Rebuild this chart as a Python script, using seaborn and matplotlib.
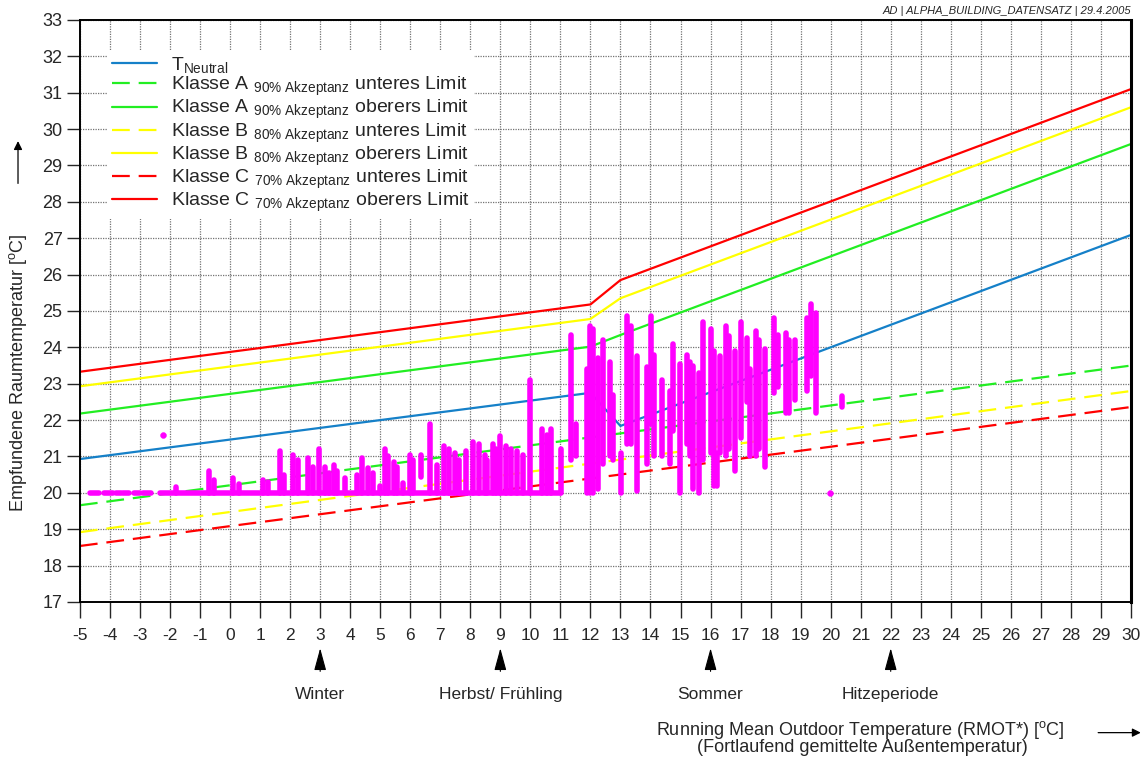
import matplotlib
matplotlib.use("Agg")
import matplotlib.pyplot as plt
import matplotlib.patches as mpatches
import matplotlib.transforms as mtransforms
import seaborn as sns

# comfort band lines (x = running mean outdoor temp, y = room temp)
x_knots = [-5, 12, 13, 30]
t_neutral = [20.93, 22.75, 21.84, 27.09]
a_upper = [22.18, 24.02, 24.34, 29.59]
b_upper = [22.93, 24.78, 25.35, 30.60]
c_upper = [23.33, 25.18, 25.85, 31.10]

x_ends = [-5, 30]
a_lower = [19.66, 23.50]
b_lower = [18.92, 22.80]
c_lower = [18.54, 22.36]

# measured data, read as vertical clusters of points: x, lowest y, highest y
col_x = [-1.8, -0.7, -0.55, 0.1, 0.3, 1.1, 1.25, 1.65, 1.8, 2.1, 2.25, 2.6, 2.75,
         2.95, 3.15, 3.3,
         3.45, 3.55, 3.83, 4.22, 4.4, 4.58, 4.75, 5.0, 5.15, 5.25, 5.45, 5.55, 5.77,
         5.98, 6.1, 6.35, 6.65, 6.88, 7.12, 7.28, 7.5, 7.62, 7.85, 8.1, 8.28, 8.48,
         8.55, 8.75, 8.85, 9.0, 9.2, 9.35, 9.57, 9.77, 10.0, 10.4, 10.55, 10.7,
         11.03, 11.36, 11.52, 11.88, 12.0, 12.1, 12.25, 12.43, 12.65, 12.75, 13.02,
         13.22, 13.35, 13.55, 13.88, 14.02, 14.12, 14.4, 14.65, 14.75, 14.97, 15.2,
         15.3,
         15.42, 15.6, 15.75, 16.0, 16.1, 16.2, 16.3, 16.5, 16.6, 16.8, 17.0, 17.2,
         17.33, 17.5, 17.6, 17.83, 18.1, 18.25, 18.5, 18.6, 18.8, 19.2, 19.35, 19.5,
         20.38]
col_lo = [20.0, 20.0, 20.0, 20.0, 20.0, 20.0, 20.0, 20.0, 20.0, 20.0, 20.0, 20.0, 20.0,
          20.0, 20.0, 20.0,
          20.0, 20.0, 20.0, 20.0, 20.0, 20.0, 20.0, 20.0, 20.0, 20.0, 20.0, 20.0, 20.0,
          20.0, 20.0, 20.45, 20.0, 20.0, 20.0, 20.0, 20.0, 20.0, 20.0, 20.0, 20.0, 20.0,
          20.0, 20.0, 20.0, 20.0, 20.0, 20.0, 20.0, 20.0, 20.0, 20.0, 20.0, 20.0,
          20.0, 20.9, 21.0, 20.0, 20.0, 20.0, 20.1, 20.8, 21.0, 20.9, 20.0,
          21.35, 21.35, 20.05, 20.8, 21.9, 21.0, 21.0, 20.8, 21.7, 20.0, 21.35,
          21.0,
          20.1, 20.0, 20.9, 21.1, 20.2, 20.2, 21.1, 21.0, 21.2, 20.6, 21.5, 22.5,
          21.0, 21.0, 21.2, 20.7, 22.75, 22.9, 22.2, 22.2, 22.55, 22.8, 23.2, 22.2,
          22.35]
col_hi = [20.15, 20.6, 20.35, 20.4, 20.25, 20.35, 20.3, 21.15, 20.5, 21.05, 20.9, 20.95, 20.7,
          21.2, 20.7, 20.55,
          20.77, 20.6, 20.4, 20.5, 20.95, 20.68, 20.55, 20.2, 21.2, 21.0, 20.86, 20.7, 20.26,
          21.05, 20.9, 21.05, 21.9, 20.77, 21.3, 21.2, 21.1, 20.9, 21.15, 21.4, 21.35, 21.05,
          20.9, 21.35, 21.2, 21.55, 21.28, 21.2, 21.15, 21.05, 23.1, 21.75, 21.6, 21.75,
          21.2, 24.35, 21.9, 23.4, 24.6, 24.5, 23.7, 24.2, 23.6, 22.7, 21.1,
          24.85, 24.6, 23.75, 23.45, 24.85, 23.8, 23.1, 22.8, 24.1, 23.55, 23.8,
          23.6,
          23.5, 23.3, 24.7, 24.5, 23.9, 21.1, 23.75, 24.6, 24.3, 23.9, 24.7, 24.25,
          23.4, 24.45, 24.2, 23.95, 24.8, 24.35, 24.4, 24.2, 24.2, 24.8, 25.2, 24.95,
          22.65]

# runs of readings sitting at 20 degC
base_start = [-4.65, -4.2, -3.8, -3.55, -3.2, -2.9, -2.35]
base_end = [-4.35, -3.9, -3.62, -3.35, -3.0, -2.62, 11.0]

single_x = [-2.25, 19.97]
single_y = [21.58, 20.0]

season_x = [3, 9, 16, 22]
season_names = ["Winter", "Herbst/ Frühling", "Sommer", "Hitzeperiode"]

sns.set_style("white")
plt.rcParams["font.family"] = ["Liberation Sans", "DejaVu Sans"]
plt.rcParams["mathtext.fontset"] = "custom"
plt.rcParams["mathtext.rm"] = "Liberation Sans"
plt.rcParams["mathtext.it"] = "Liberation Sans:italic"
plt.rcParams["axes.unicode_minus"] = False

fig = plt.figure(figsize=(11.47, 7.6), dpi=100)
ax = fig.add_axes([0.0697, 0.2079, 0.9163, 0.7658])

mag = "#ff00ff"
ax.vlines(col_x, col_lo, col_hi, color=mag, lw=4.0, capstyle="round", zorder=3)
ax.hlines([20.0] * len(base_start), base_start, base_end, color=mag, lw=4.0,
          capstyle="round", zorder=3)
sns.scatterplot(x=single_x, y=single_y, color=mag, s=18, edgecolor=mag, ax=ax, zorder=3)

lw = 1.6
dash = (0, (8, 4))
sns.lineplot(x=x_knots, y=t_neutral, color="#1580c8", lw=lw, ax=ax, zorder=2,
             label=r"T$_{\rm Neutral}$")
sns.lineplot(x=x_ends, y=a_lower, color="#22ee22", lw=lw, ls=dash, ax=ax, zorder=2,
             label=r"Klasse A $_{\rm 90\%\ Akzeptanz}$ unteres Limit")
sns.lineplot(x=x_knots, y=a_upper, color="#22ee22", lw=lw, ax=ax, zorder=2,
             label=r"Klasse A $_{\rm 90\%\ Akzeptanz}$ oberers Limit")
sns.lineplot(x=x_ends, y=b_lower, color="#ffff00", lw=lw, ls=dash, ax=ax, zorder=2,
             label=r"Klasse B $_{\rm 80\%\ Akzeptanz}$ unteres Limit")
sns.lineplot(x=x_knots, y=b_upper, color="#ffff00", lw=lw, ax=ax, zorder=2,
             label=r"Klasse B $_{\rm 80\%\ Akzeptanz}$ oberers Limit")
sns.lineplot(x=x_ends, y=c_lower, color="#ff0000", lw=lw, ls=dash, ax=ax, zorder=2,
             label=r"Klasse C $_{\rm 70\%\ Akzeptanz}$ unteres Limit")
sns.lineplot(x=x_knots, y=c_upper, color="#ff0000", lw=lw, ax=ax, zorder=2,
             label=r"Klasse C $_{\rm 70\%\ Akzeptanz}$ oberers Limit")

ax.set_xlim(-5, 30)
ax.set_ylim(17, 33)
ax.set_xticks(range(-5, 31))
ax.set_yticks(range(17, 34))
ax.set_xlabel("")
ax.set_ylabel("")
ax.grid(True, color="0.45", ls=(0, (1, 1)), lw=0.9, zorder=0)
ax.set_axisbelow(True)
ax.tick_params(axis="x", direction="out", length=11.5, width=1, pad=7, labelsize=12.5,
               bottom=True)
ax.tick_params(axis="y", direction="out", length=9.5, width=1, pad=3, labelsize=13,
               left=True)
for side in ["left", "bottom", "top"]:
    ax.spines[side].set_color("black")
    ax.spines[side].set_linewidth(1.4)
ax.spines["right"].set_color("black")
ax.spines["right"].set_linewidth(2.2)

ax.legend(loc="upper left", bbox_to_anchor=(0.017, 0.965), fontsize=14,
          handlelength=2.3, labelspacing=0.0, borderpad=0.25, handletextpad=0.7,
          frameon=True, facecolor="white", edgecolor="none", framealpha=1,
          fancybox=False)

# season markers under the x axis
trans = mtransforms.blended_transform_factory(ax.transData, fig.transFigure)
for sx, name in zip(season_x, season_names):
    ax.annotate(name, xy=(sx, 0.147), xycoords=trans, xytext=(sx, 0.086),
                textcoords=trans, ha="center", va="center", fontsize=12.5,
                arrowprops=dict(arrowstyle="-|>,head_length=1.1,head_width=0.3",
                                color="black", lw=0.8, shrinkA=9, shrinkB=0))

fig.text(0.0157, 0.51, r"Empfundene Raumtemperatur [$^{\rm o}$C]", rotation=90,
         ha="center", va="center", fontsize=13)
fig.patches.append(mpatches.FancyArrowPatch(
    (0.0157, 0.755), (0.0157, 0.818), transform=fig.transFigure,
    arrowstyle="-|>,head_length=5,head_width=2.5", color="black", lw=0.9))

fig.text(0.75, 0.039, r"Running Mean Outdoor Temperature (RMOT*) [$^{\rm o}$C]",
         ha="center", va="center", fontsize=13)
fig.text(0.752, 0.016, "(Fortlaufend gemittelte Außentemperatur)",
         ha="center", va="center", fontsize=13)
fig.patches.append(mpatches.FancyArrowPatch(
    (0.955, 0.036), (0.997, 0.036), transform=fig.transFigure,
    arrowstyle="-|>,head_length=5,head_width=2.5", color="black", lw=0.9))

fig.text(0.986, 0.985, "AD | ALPHA_BUILDING_DATENSATZ | 29.4.2005", ha="right",
         va="center", fontsize=8, style="italic")

fig.savefig("out.png", dpi=100)
